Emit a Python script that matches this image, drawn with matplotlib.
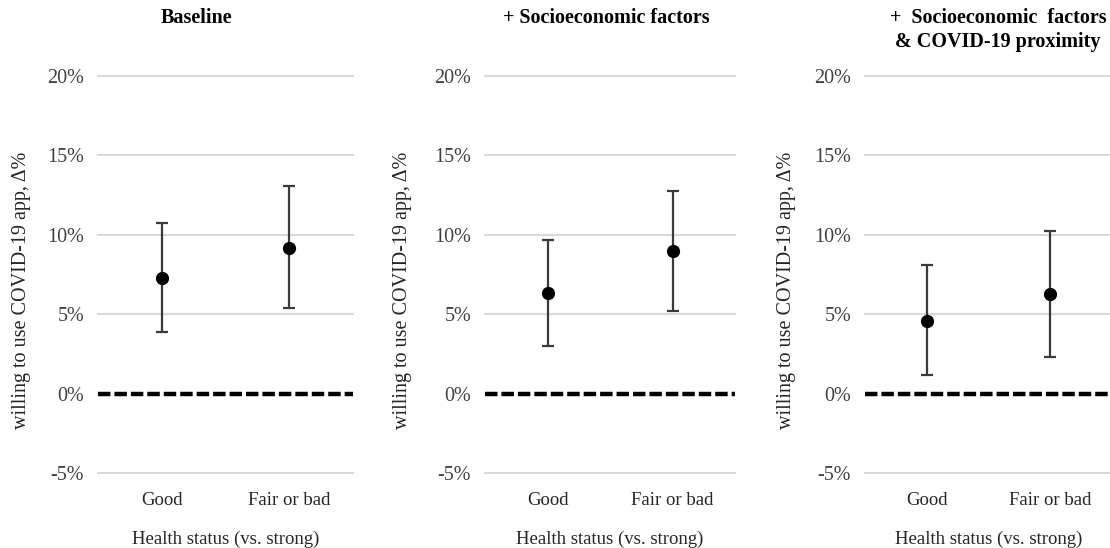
import numpy as np
import matplotlib
matplotlib.use('Agg')
import matplotlib.pyplot as plt

plt.rcParams['font.family'] = ['Liberation Serif', 'DejaVu Serif']

categories = ['Good', 'Fair or bad']
titles = ['Baseline', '+ Socioeconomic factors', '+  Socioeconomic  factors\n& COVID-19 proximity']

# point estimates and 95% CI bounds (percentage points)
est_baseline = [7.25, 9.2]
low_baseline = [3.9, 5.4]
high_baseline = [10.75, 13.1]

est_socio = [6.35, 8.95]
low_socio = [3.0, 5.2]
high_socio = [9.7, 12.75]

est_prox = [4.6, 6.25]
low_prox = [1.15, 2.3]
high_prox = [8.1, 10.25]

yticks = [-5, 0, 5, 10, 15, 20]
ytick_labels = ['-5%', '0%', '5%', '10%', '15%', '20%']

models = [(est_baseline, low_baseline, high_baseline),
          (est_socio, low_socio, high_socio),
          (est_prox, low_prox, high_prox)]

W, H = 1110, 548
fig = plt.figure(figsize=(W / 100, H / 100), dpi=100)

# axes extents in pixels (left, right)
panels = [(98, 353), (485, 735), (865, 1112)]
ylabel_x = [22, 403, 787]
title_x = [197, 606, 998]
top_px, bot_px = 76, 473

x = np.arange(len(categories))
for i, (est, lo, hi) in enumerate(models):
    l, r = panels[i]
    ax = fig.add_axes([l / W, 1 - bot_px / H, (r - l) / W, (bot_px - top_px) / H])
    est = np.array(est)
    yerr = [est - np.array(lo), np.array(hi) - est]
    ax.errorbar(x, est, yerr=yerr, fmt='o', color='black', ecolor='#3a3a3a',
                elinewidth=1.6, capsize=4.5, capthick=1.6, markersize=8.5, zorder=5)
    ax.axhline(0, color='black', linewidth=3.2, linestyle=(0, (2.8, 0.9)), zorder=4)
    for yv in yticks:
        if yv != 0:
            ax.axhline(yv, color='#d9d9d9', linewidth=1.5, zorder=1, clip_on=False)
    ax.set_xlim(-0.5, 1.5)
    ax.set_ylim(-5, 20)
    ax.set_yticks(yticks)
    ax.set_yticklabels(ytick_labels, fontsize=14.5, color='#404040')
    ax.set_xticks(x)
    ax.set_xticklabels(categories, fontsize=13.5, color='#262626')
    ax.tick_params(length=0, axis='y', pad=10)
    ax.tick_params(length=0, axis='x', pad=14)
    for s in ax.spines.values():
        s.set_visible(False)
    ax.set_xlabel('Health status (vs. strong)', fontsize=13.5, color='#262626', labelpad=15)
    fig.text(ylabel_x[i] / W, 1 - 290 / H, 'willing to use COVID-19 app, Δ%', rotation=90,
             ha='center', va='center', fontsize=14.5, color='#262626')
    fig.text(title_x[i] / W, 1 - 8 / H, titles[i], ha='center', va='top',
             fontsize=14.5, fontweight='bold', linespacing=1.3)

fig.savefig('out.png', dpi=100)
